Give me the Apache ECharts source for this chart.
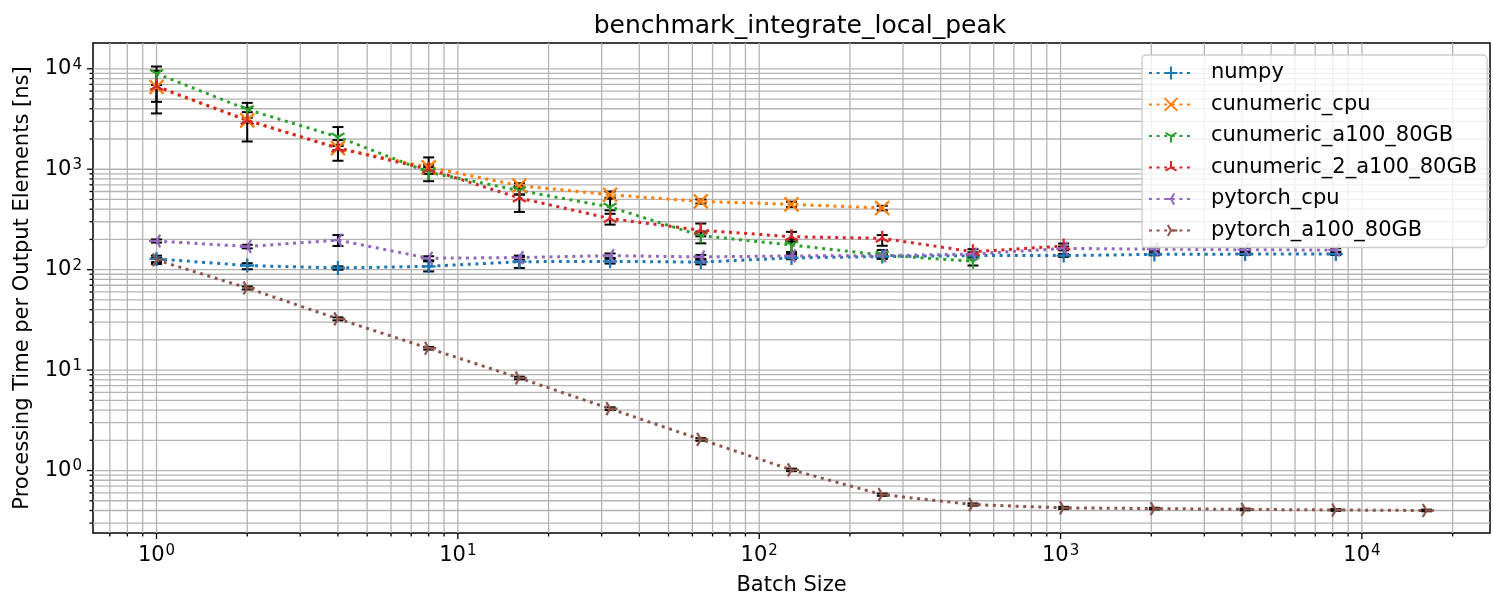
<!DOCTYPE html>
<html><head><meta charset="utf-8">
<script src="https://cdn.jsdelivr.net/npm/echarts@6/dist/echarts.min.js"></script>
<style>html,body{margin:0;padding:0;background:#fff}#c{width:1493px;height:601px}</style>
</head><body><div id="c"></div>
<script>
// ---------------- data ----------------
const batchSizes = [1, 2, 4, 8, 16, 32, 64, 128, 256, 512, 1024, 2048, 4096, 8192, 16384];

const numpyVals = [128, 110, 104, 108, 120, 121, 119, 131, 135, 138, 138, 142, 143, 143];
const numpyLow  = [114, 101, 100, 96, 104, 115, 113, 127, 130, 134, 134, 139, 140, 140];
const numpyHigh = [138, 116, 108, 121, 134, 128, 125, 136, 141, 144, 143, 146, 147, 147];

const cuCpuVals = [6590, 3065, 1622, 1045, 688, 557, 478, 447, 411];
const cuCpuLow  = [6300, 2900, 1550, 980, 650, 520, 455, 420, 390];
const cuCpuHigh = [6900, 3250, 1700, 1110, 725, 600, 500, 475, 432];

const cuA100Vals = [8980, 3935, 2098, 933, 614, 421, 218, 176, 140, 121];
const cuA100Low  = [4690, 3700, 1950, 760, 560, 390, 183, 150, 128, 110];
const cuA100High = [10540, 4580, 2630, 1050, 680, 509, 240, 200, 157, 132];

const cu2A100Vals = [6700, 3065, 1622, 1000, 517, 323, 247, 213, 205, 151, 172];
const cu2A100Low  = [3595, 1890, 1215, 900, 376, 281, 215, 190, 173, 140, 160];
const cu2A100High = [9550, 4090, 1750, 1312, 560, 360, 288, 238, 221, 160, 182];

const ptCpuVals = [193, 170, 197, 130, 132, 138, 134, 137, 138, 143, 163, 160, 158, 157];
const ptCpuLow  = [186, 163, 172, 124, 126, 131, 128, 131, 132, 137, 156, 154, 152, 151];
const ptCpuHigh = [200, 177, 221, 136, 138, 145, 140, 143, 144, 149, 170, 166, 164, 163];

const ptA100Vals = [125, 65.7, 32.4, 16.5, 8.35, 4.13, 2.04, 1.015, 0.575, 0.458, 0.425, 0.418, 0.41, 0.405, 0.40];
const ptA100Low  = [119, 63.5, 31.3, 16.0, 8.1, 4.0, 1.98, 0.985, 0.56, 0.447, 0.415, 0.41, 0.402, 0.397, 0.393];
const ptA100High = [131, 68, 33.5, 17.0, 8.6, 4.26, 2.1, 1.045, 0.59, 0.47, 0.435, 0.426, 0.418, 0.413, 0.408];

const seriesNames = ['numpy', 'cunumeric_cpu', 'cunumeric_a100_80GB', 'cunumeric_2_a100_80GB', 'pytorch_cpu', 'pytorch_a100_80GB'];
const seriesVals = [numpyVals, cuCpuVals, cuA100Vals, cu2A100Vals, ptCpuVals, ptA100Vals];
const seriesLow  = [numpyLow, cuCpuLow, cuA100Low, cu2A100Low, ptCpuLow, ptA100Low];
const seriesHigh = [numpyHigh, cuCpuHigh, cuA100High, cu2A100High, ptCpuHigh, ptA100High];

const titleText = 'benchmark_integrate_local_peak';
const xName = 'Batch Size';
const yName = 'Processing Time per Output Elements [ns]';

// ---------------- style ----------------
const colors = ['#1f77b4', '#ff7f0e', '#2ca02c', '#d62728', '#9467bd', '#8c564b'];
const BOX = 'M-1,-1L-1,-1M1,1L1,1';
const markers = [
  'path://' + BOX + 'M0,-1L0,1M-1,0L1,0',
  'path://' + BOX + 'M-1,-1L1,1M-1,1L1,-1',
  'path://' + BOX + 'M0,0L0,1M0,0L-0.866,-0.5M0,0L0.866,-0.5',
  'path://' + BOX + 'M0,0L0,-1M0,0L-0.866,0.5M0,0L0.866,0.5',
  'path://' + BOX + 'M0,0L-1,0M0,0L0.5,-0.866M0,0L0.5,0.866',
  'path://' + BOX + 'M0,0L1,0M0,0L-0.5,-0.866M0,0L-0.5,0.866'
];
const markerSizes = [14, 14, 15, 15, 15, 15];
const FONT = 'DejaVu Sans';
const xMin = 0.6155, xMax = 26610;
const yMin = 0.2388, yMax = 18070;

// grid line positions (decade subdivisions)
const xGrid = [], yGrid = [];
for (let n = -1; n <= 4; n++) {
  for (let k = 1; k <= 9; k++) {
    const v = k * Math.pow(10, n);
    if (v > xMin && v < xMax) xGrid.push(v);
    if (v > yMin && v < yMax) yGrid.push(v);
  }
}
const gridData = xGrid.map(v => [v, 1, 0]).concat(yGrid.map(v => [1, v, 1]));

function isPow10(v) {
  const e = Math.log10(v);
  return Math.abs(e - Math.round(e)) < 1e-6;
}
function pow10Label(v) {
  if (!isPow10(v)) return '';
  return '{b|10}{s|' + Math.round(Math.log10(v)) + '}';
}
const labelRich = {
  b: { fontSize: 21, fontFamily: FONT, color: '#000' },
  s: { fontSize: 15, fontFamily: FONT, color: '#000', verticalAlign: 'top', padding: [0, 0, 8, 1] }
};

const errData = [];
seriesVals.forEach((vals, si) => vals.forEach((v, i) => {
  errData.push([batchSizes[i], seriesLow[si][i], seriesHigh[si][i], si]);
}));

const series = [];
series.push({
  type: 'custom', name: '_grid', silent: true, z: 1, clip: false,
  data: gridData, encode: { x: 0, y: 1 },
  renderItem(params, api) {
    const cs = params.coordSys;
    const isY = api.value(2) === 1;
    const gs = { stroke: '#b4b4b4', lineWidth: 1.3 };
    const ts = { stroke: '#000', lineWidth: 1.3 };
    if (!isY) {
      const v = api.value(0);
      const px = api.coord([v, 1])[0];
      const len = isPow10(v) ? 6 : 3.5;
      const yb = cs.y + cs.height;
      return { type: 'group', children: [
        { type: 'line', shape: { x1: px, y1: cs.y, x2: px, y2: yb }, style: gs },
        { type: 'line', shape: { x1: px, y1: yb, x2: px, y2: yb + len }, style: ts }
      ]};
    } else {
      const v = api.value(1);
      const py = api.coord([1, v])[1];
      const len = isPow10(v) ? 6 : 3.5;
      return { type: 'group', children: [
        { type: 'line', shape: { x1: cs.x, y1: py, x2: cs.x + cs.width, y2: py }, style: gs },
        { type: 'line', shape: { x1: cs.x - len, y1: py, x2: cs.x, y2: py }, style: ts }
      ]};
    }
  }
});

seriesNames.forEach((name, i) => {
  series.push({
    type: 'line', name: name, z: 3,
    data: seriesVals[i].map((v, k) => [batchSizes[k], v]),
    symbol: markers[i], symbolSize: markerSizes[i], symbolKeepAspect: true,
    showSymbol: true,
    lineStyle: { color: colors[i], width: 3, type: [3, 4.6] },
    itemStyle: { color: colors[i], borderColor: colors[i], borderWidth: 2.3 },
    emphasis: { disabled: true }
  });
});

series.push({
  type: 'custom', name: '_err', silent: true, z: 2, clip: false,
  data: errData, encode: { x: 0, y: [1, 2] },
  renderItem(params, api) {
    const x = api.value(0);
    const p1 = api.coord([x, api.value(1)]);
    const p2 = api.coord([x, api.value(2)]);
    const hw = 5.5;
    const st = { stroke: '#000', lineWidth: 2 };
    return { type: 'group', children: [
      { type: 'line', shape: { x1: p1[0], y1: p1[1], x2: p2[0], y2: p2[1] }, style: st },
      { type: 'line', shape: { x1: p1[0] - hw, y1: p1[1], x2: p1[0] + hw, y2: p1[1] }, style: st },
      { type: 'line', shape: { x1: p2[0] - hw, y1: p2[1], x2: p2[0] + hw, y2: p2[1] }, style: st }
    ]};
  }
});

const chart = echarts.init(document.getElementById('c'), null, { renderer: 'canvas' });
chart.setOption({
  animation: false,
  backgroundColor: '#fff',
  title: {
    text: titleText, left: 795, top: 9, textAlign: 'center',
    textStyle: { fontSize: 25, fontWeight: 'normal', fontFamily: FONT, color: '#000' }
  },
  grid: { left: 93, top: 43, right: -4, bottom: 64, show: true, borderColor: '#000', borderWidth: 1.5, backgroundColor: 'transparent' },
  legend: {
    data: seriesNames, orient: 'vertical', left: 1142, top: 55,
    itemWidth: 44, itemHeight: 16, itemGap: 9.5,
    padding: [7, 10, 6, 6],
    backgroundColor: 'rgba(255,255,255,0.8)', borderColor: '#cccccc', borderWidth: 1.3, borderRadius: 4,
    textStyle: { fontSize: 21, fontFamily: FONT, color: '#000', lineHeight: 22, padding: [0, 0, 0, 13] },
    z: 10, selectedMode: false
  },
  xAxis: {
    type: 'log', logBase: 10, min: xMin, max: xMax,
    name: xName, nameLocation: 'middle', nameGap: 42,
    nameTextStyle: { fontSize: 21, fontFamily: FONT, color: '#000' },
    axisLine: { show: false }, axisTick: { show: false }, splitLine: { show: false },
    minorTick: { show: false }, minorSplitLine: { show: false },
    axisLabel: { formatter: pow10Label, rich: labelRich, margin: 11, color: '#000' }
  },
  yAxis: {
    type: 'log', logBase: 10, min: yMin, max: yMax,
    name: yName, nameLocation: 'middle', nameGap: 60,
    nameTextStyle: { fontSize: 21, fontFamily: FONT, color: '#000' },
    axisLine: { show: false }, axisTick: { show: false }, splitLine: { show: false },
    minorTick: { show: false }, minorSplitLine: { show: false },
    axisLabel: { formatter: pow10Label, rich: labelRich, margin: 11, color: '#000' }
  },
  series: series
});
</script>
</body></html>
